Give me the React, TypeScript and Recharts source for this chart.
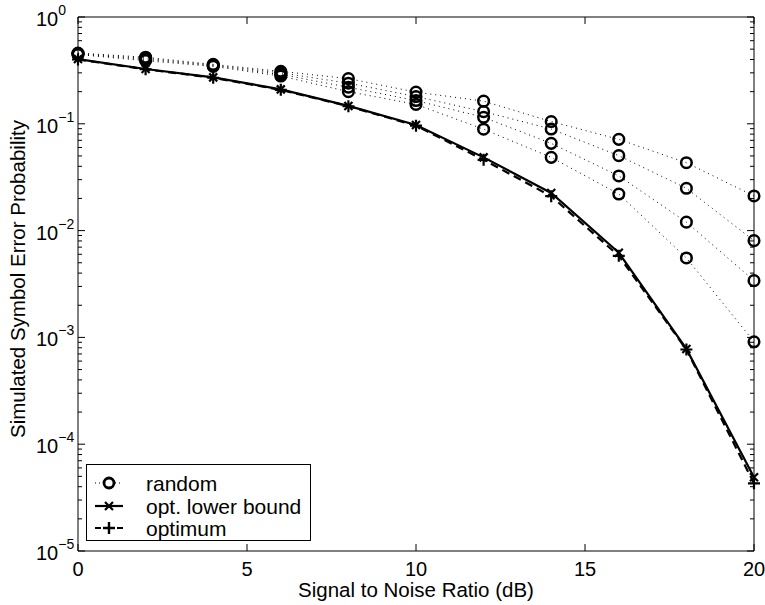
import React from 'react';
import { LineChart, Line, XAxis, YAxis } from 'recharts';

const snr = [0, 2, 4, 6, 8, 10, 12, 14, 16, 18, 20];
const random1 = [0.46, 0.42, 0.36, 0.31, 0.265, 0.198, 0.163, 0.105, 0.0715, 0.0432, 0.0211];
const random2 = [0.455, 0.41, 0.355, 0.3, 0.24, 0.18, 0.13, 0.0894, 0.0503, 0.0249, 0.00805];
const random3 = [0.45, 0.4, 0.35, 0.29, 0.22, 0.165, 0.115, 0.0656, 0.0325, 0.012, 0.0034];
const random4 = [0.445, 0.39, 0.345, 0.28, 0.2, 0.152, 0.089, 0.0485, 0.022, 0.00554, 0.00091];
const lowerBound = [0.404, 0.326, 0.272, 0.21, 0.147, 0.0975, 0.0485, 0.0225, 0.0062, 0.00078, 4.9e-5];
const optimum = [0.4, 0.324, 0.27, 0.208, 0.146, 0.096, 0.046, 0.021, 0.0058, 0.00077, 4.3e-5];

const xTicks = [0, 5, 10, 15, 20];
const decades = [1e-5, 1e-4, 1e-3, 1e-2, 1e-1];
const mantissas = [1, 2, 3, 4, 5, 6, 7, 8, 9];
const yTicks = [...decades.flatMap((d) => mantissas.map((m) => m * d)), 1];

const data = snr.map((x, i) => ({
  x,
  r1: random1[i],
  r2: random2[i],
  r3: random3[i],
  r4: random4[i],
  lb: lowerBound[i],
  opt: optimum[i],
}));

const FONT = '"Liberation Sans", Arial, Helvetica, sans-serif';

const isMajor = (v: number) => Math.abs(Math.log10(v) - Math.round(Math.log10(v))) < 1e-6;

const BottomTick = (props: any) => {
  const { x, y, payload } = props;
  return (
    <g>
      <line x1={x} y1={y} x2={x} y2={y - 7} stroke="#000" />
      <text x={x} y={y + 25} textAnchor="middle" fontSize={20} fontFamily={FONT} fill="#000">
        {payload.value}
      </text>
    </g>
  );
};

const TopTick = (props: any) => {
  const { x, y } = props;
  return <line x1={x} y1={y} x2={x} y2={y + 7} stroke="#000" />;
};

const LeftTick = (props: any) => {
  const { x, y, payload } = props;
  const v = payload.value;
  const major = isMajor(v);
  const exp = Math.round(Math.log10(v));
  return (
    <g>
      <line x1={x} y1={y} x2={x + (major ? 7 : 4)} y2={y} stroke="#000" />
      {major && (
        <text x={x - 42} y={y + 9} fontSize={20} fontFamily={FONT} fill="#000">
          10
          <tspan dy={-11} fontSize={14}>
            {exp === 0 ? '0' : `\u2212${-exp}`}
          </tspan>
        </text>
      )}
    </g>
  );
};

const RightTick = (props: any) => {
  const { x, y, payload } = props;
  const major = isMajor(payload.value);
  return <line x1={x} y1={y} x2={x - (major ? 7 : 4)} y2={y} stroke="#000" />;
};

const Circle = (props: any) => {
  const { cx, cy, index } = props;
  if (cx == null || cy == null) return <g key={index} />;
  return <circle key={index} cx={cx} cy={cy} r={5.3} fill="none" stroke="#000" strokeWidth={2.5} />;
};

const Cross = (props: any) => {
  const { cx, cy, index } = props;
  if (cx == null || cy == null) return <g key={index} />;
  const s = 4;
  return (
    <path
      key={index}
      d={`M${cx - s},${cy - s}L${cx + s},${cy + s}M${cx - s},${cy + s}L${cx + s},${cy - s}`}
      stroke="#000"
      strokeWidth={2.2}
    />
  );
};

const Plus = (props: any) => {
  const { cx, cy, index } = props;
  if (cx == null || cy == null) return <g key={index} />;
  const s = 6;
  return (
    <path
      key={index}
      d={`M${cx - s},${cy}L${cx + s},${cy}M${cx},${cy - s}L${cx},${cy + s}`}
      stroke="#000"
      strokeWidth={2.2}
    />
  );
};

const randomKeys = ['r1', 'r2', 'r3', 'r4'];

const LegendBox = () => (
  <div
    style={{
      position: 'absolute',
      left: 86,
      top: 464,
      width: 225,
      height: 77,
      border: '1px solid #000',
      background: '#fff',
      boxSizing: 'border-box',
    }}
  >
    <svg width={223} height={75} style={{ display: 'block' }}>
      <g fontFamily={FONT} fontSize={21} fill="#000">
        <line x1={8} y1={18} x2={36} y2={18} stroke="#000" strokeDasharray="1 3" />
        <circle cx={22} cy={18} r={5} fill="#fff" stroke="#000" strokeWidth={2.8} />
        <text x={59} y={18} dominantBaseline="central">random</text>

        <line x1={8} y1={41} x2={36} y2={41} stroke="#000" strokeWidth={2.2} />
        <path d="M18,37L26,45M18,45L26,37" stroke="#000" strokeWidth={2.2} />
        <text x={59} y={41} dominantBaseline="central">opt. lower bound</text>

        <line x1={8} y1={63} x2={36} y2={63} stroke="#000" strokeWidth={2.2} strokeDasharray="6 5" />
        <path d="M16,63L28,63M22,57L22,69" stroke="#000" strokeWidth={2.4} />
        <text x={59} y={63} dominantBaseline="central">optimum</text>
      </g>
    </svg>
  </div>
);

const App: React.FC = () => {
  return (
    <div style={{ position: 'absolute', left: 0, top: 0, width: 765, height: 605, background: '#fff' }}>
      <LineChart width={765} height={605} data={data} margin={{ top: 16, right: 10, bottom: 53, left: 77 }}>
        <XAxis
          xAxisId="b"
          dataKey="x"
          type="number"
          domain={[0, 20]}
          ticks={xTicks}
          interval={0}
          height={1}
          tickSize={0}
          tickMargin={0}
          tickLine={false}
          tick={<BottomTick />}
          axisLine={{ stroke: '#000' }}
          label={(p: any) => {
            const vb = p.viewBox || {};
            return (
              <text
                x={vb.x + vb.width / 2}
                y={597}
                textAnchor="middle"
                fontSize={20.5}
                fontFamily={FONT}
                fill="#000"
              >
                Signal to Noise Ratio (dB)
              </text>
            );
          }}
        />
        <XAxis
          xAxisId="t"
          orientation="top"
          dataKey="x"
          type="number"
          domain={[0, 20]}
          ticks={xTicks}
          interval={0}
          height={1}
          tickSize={0}
          tickMargin={0}
          tickLine={false}
          tick={<TopTick />}
          axisLine={{ stroke: '#000' }}
        />
        <YAxis
          yAxisId="l"
          type="number"
          scale="log"
          domain={[1e-5, 1]}
          allowDataOverflow
          ticks={yTicks}
          interval={0}
          width={1}
          tickSize={0}
          tickMargin={0}
          tickLine={false}
          tick={<LeftTick />}
          axisLine={{ stroke: '#000' }}
          label={(p: any) => {
            const vb = p.viewBox || {};
            const cy = vb.y + vb.height / 2 - 5;
            return (
              <text
                x={25}
                y={cy}
                transform={`rotate(-90, 25, ${cy})`}
                textAnchor="middle"
                fontSize={20.5}
                fontFamily={FONT}
                fill="#000"
              >
                Simulated Symbol Error Probability
              </text>
            );
          }}
        />
        <YAxis
          yAxisId="r"
          orientation="right"
          type="number"
          scale="log"
          domain={[1e-5, 1]}
          allowDataOverflow
          ticks={yTicks}
          interval={0}
          width={1}
          tickSize={0}
          tickMargin={0}
          tickLine={false}
          tick={<RightTick />}
          axisLine={{ stroke: '#000' }}
        />
        {randomKeys.map((k) => (
          <Line
            key={k}
            xAxisId="b"
            yAxisId="l"
            dataKey={k}
            stroke="#000"
            strokeWidth={1}
            strokeDasharray="1 4"
            dot={Circle}
            activeDot={false}
            isAnimationActive={false}
          />
        ))}
        <Line
          xAxisId="b"
          yAxisId="l"
          dataKey="opt"
          stroke="#000"
          strokeWidth={2.2}
          strokeDasharray="8 5"
          dot={Plus}
          activeDot={false}
          isAnimationActive={false}
        />
        <Line
          xAxisId="b"
          yAxisId="l"
          dataKey="lb"
          stroke="#000"
          strokeWidth={2.2}
          dot={Cross}
          activeDot={false}
          isAnimationActive={false}
        />
      </LineChart>
      <LegendBox />
    </div>
  );
};

export default App;
